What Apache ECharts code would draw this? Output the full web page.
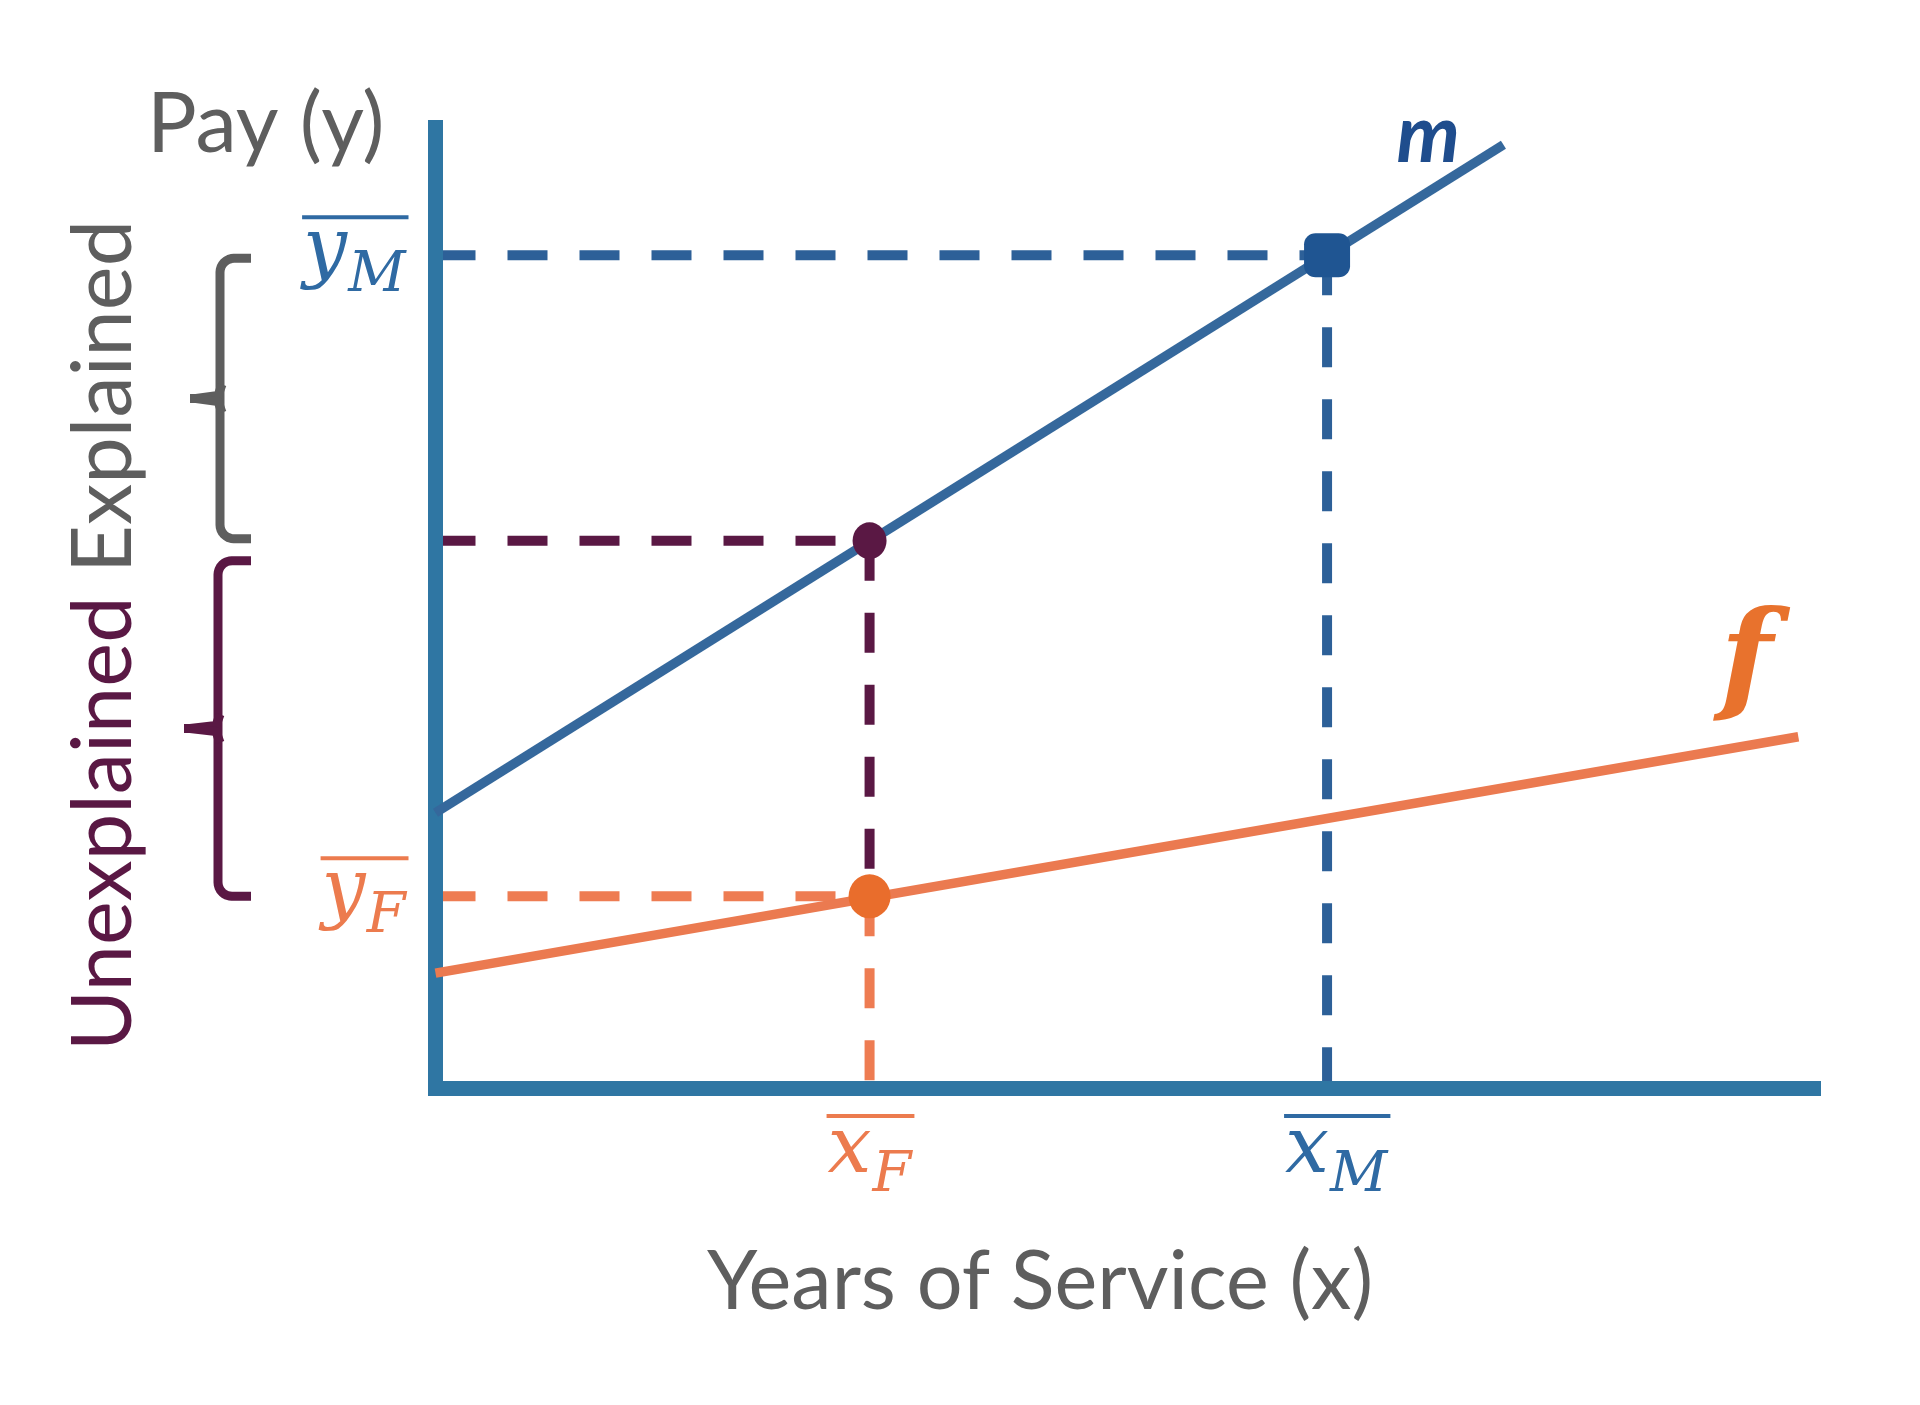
<!DOCTYPE html>
<html><head><meta charset="utf-8">
<script src="https://cdn.jsdelivr.net/npm/echarts@6/dist/echarts.min.js"></script>
<style>html,body{margin:0;padding:0;background:#fff}#c{width:1920px;height:1405px}</style>
</head><body><div id="c"></div>
<script>
// ---------------- data ----------------
const xRange = [0, 10];
const yRange = [0, 10];
const lineM = [[0, 2.87], [7.75, 9.82]];   // male pay line
const lineF = [[0, 1.20], [9.89, 3.66]];   // female pay line
const meanM = [6.47, 8.67];                // (mean x_M, mean y_M)
const meanF = [3.15, 2.00];                // (mean x_F, mean y_F)
const counterfactual = [3.15, 5.70];       // male line evaluated at mean x_F
const xTickValues = [3.15, 6.47];
const xTickBase = ['x', 'x'];
const xTickSub = ['F', 'M'];
const yTickValues = [8.67, 2.00];
const yTickBase = ['y', 'y'];
const yTickSub = ['M', 'F'];
const lineNames = ['m', 'f'];
const xAxisTitle = 'Years of Service (x)';
const yAxisTitle = 'Pay (y)';
const braceLabels = ['Unexplained', 'Explained'];
const braceSpans = [[counterfactual[1], meanF[1]], [meanM[1], counterfactual[1]]];

// ---------------- styles ----------------
const C = {
  axis: '#2f76a3', mLine: '#35689c', mDash: '#2d6098', mDot: '#1f5592',
  purple: '#5a1844', fLine: '#eb7a50', fDash: '#ee7c52', fDot: '#e96d2c',
  gray: '#5e5e5e', lblM: '#2f6aa3', lblF: '#ec7b4e', mText: '#1f4d8d', fText: '#e8722d'
};
const subColor = { F: C.lblF, M: C.lblM };
const BASE_SIZE = 78, SUB_SIZE = 56;
const baseFont = 'italic ' + BASE_SIZE + 'px "DejaVu Serif"';
const subFont = 'italic ' + SUB_SIZE + 'px "DejaVu Serif"';
const SERIF_MID = 0.346;
const TEXT_SHIFT = 11;
const mctx = document.createElement('canvas').getContext('2d');
function tw(t, font) { mctx.font = font; return mctx.measureText(t).width; }

function mathLabel(L, baseY, base, sub, color, ovY) {
  const wb = tw(base, baseFont), ws = tw(sub, subFont);
  const subL = L + wb + 1;
  const R = subL + ws + 3;
  const by = baseY + TEXT_SHIFT;
  return [
    { type: 'rect', shape: { x: L - 1, y: ovY - 2, width: R - L + 1, height: 4 }, style: { fill: color } },
    { type: 'text', style: { text: base, x: L, y: by - SERIF_MID * BASE_SIZE, fill: color, font: baseFont, align: 'left', verticalAlign: 'middle' } },
    { type: 'text', style: { text: sub, x: subL, y: by + 17 - SERIF_MID * SUB_SIZE, fill: color, font: subFont, align: 'left', verticalAlign: 'middle' } }
  ];
}

function renderXTick(params, api) {
  const i = params.dataIndex;
  const p = api.coord([api.value(0), yRange[0]]);
  const color = subColor[xTickSub[i]];
  return { type: 'group', children: mathLabel(p[0] - 42, p[1] + 79.5, xTickBase[i], xTickSub[i], color, p[1] + 27.5) };
}
function renderYTick(params, api) {
  const i = params.dataIndex;
  const p = api.coord([xRange[0], api.value(0)]);
  const color = subColor[yTickSub[i]];
  const W = tw(yTickBase[i], baseFont) + 1 + tw(yTickSub[i], subFont);
  const L = p[0] - 30 - W;
  return { type: 'group', children: mathLabel(L, p[1] + 13, yTickBase[i], yTickSub[i], color, p[1] - 38) };
}
const braceStyle = [
  { color: C.purple, insetTop: 20, insetBottom: 0, vx: 218, mx: 184 },
  { color: C.gray, insetTop: 3, insetBottom: 2, vx: 220, mx: 190 }
];
function arc(cx, cy, r, a0, a1) {
  const pts = [];
  for (let k = 0; k <= 8; k++) {
    const a = (a0 + (a1 - a0) * k / 8) * Math.PI / 180;
    pts.push([cx + r * Math.cos(a), cy - r * Math.sin(a)]);
  }
  return pts;
}
function renderBrace(params, api) {
  const s = braceStyle[params.dataIndex];
  const t = api.coord([xRange[0], api.value(0)])[1] + s.insetTop;
  const b = api.coord([xRange[0], api.value(1)])[1] - s.insetBottom;
  const m = (t + b) / 2, rx = 251, r = 14, vx = s.vx;
  const pts = [[rx, t]].concat(arc(vx + r, t + r, r, 90, 180), arc(vx + r, b - r, r, 180, 270), [[rx, b]]);
  const st = { stroke: s.color, lineWidth: 9, fill: null, lineJoin: 'round', lineCap: 'butt' };
  return { type: 'group', children: [
    { type: 'polyline', shape: { points: pts }, style: st },
    { type: 'polyline', shape: { points: [[vx + 2, m - 14], [vx - 2, m - 3], [s.mx + 6, m], [s.mx, m]] }, style: st },
    { type: 'polyline', shape: { points: [[vx + 2, m + 14], [vx - 2, m + 3], [s.mx + 6, m]] }, style: st }
  ]};
}

function dashed(data, color) {
  return { type: 'line', data: data, symbol: 'none', silent: true, z: 2, clip: false,
    lineStyle: { color: color, width: 10, type: [40, 32], cap: 'butt' } };
}

const option = {
  animation: false,
  backgroundColor: '#ffffff',
  textStyle: { fontFamily: 'Lato' },
  grid: { left: 435.5, right: 106.5, top: 127.5, bottom: 316.5 },
  xAxis: { type: 'value', min: xRange[0], max: xRange[1], z: 3,
    axisLine: { show: true, onZero: false, lineStyle: { color: C.axis, width: 15, cap: 'square' } },
    axisTick: { show: false }, axisLabel: { show: false }, splitLine: { show: false } },
  yAxis: { type: 'value', min: yRange[0], max: yRange[1], z: 3,
    axisLine: { show: true, onZero: false, lineStyle: { color: C.axis, width: 15, cap: 'square' } },
    axisTick: { show: false }, axisLabel: { show: false }, splitLine: { show: false } },
  graphic: [
    { type: 'text', x: 147, y: 125, style: { text: yAxisTitle, fill: C.gray, font: '83px Lato', align: 'left', verticalAlign: 'middle' } },
    { type: 'text', x: 1040, y: 1283, style: { text: xAxisTitle, fill: C.gray, font: '81px Lato', align: 'center', verticalAlign: 'middle' } },
    { type: 'text', x: 104, y: 1051, rotation: Math.PI / 2, style: { text: braceLabels[0], fill: C.purple, font: '83px Lato', align: 'left', verticalAlign: 'middle' } },
    { type: 'text', x: 104, y: 573, rotation: Math.PI / 2, style: { text: braceLabels[1], fill: C.gray, font: '83px Lato', align: 'left', verticalAlign: 'middle' } }
  ],
  series: [
    dashed([[xRange[0], meanM[1]], [meanM[0], meanM[1]]], C.mDash),
    dashed([[meanM[0], meanM[1]], [meanM[0], yRange[0]]], C.mDash),
    dashed([[xRange[0], counterfactual[1]], [counterfactual[0], counterfactual[1]]], C.purple),
    dashed([[counterfactual[0], counterfactual[1]], [meanF[0], meanF[1]]], C.purple),
    dashed([[xRange[0], meanF[1]], [meanF[0], meanF[1]]], C.fDash),
    dashed([[meanF[0], meanF[1]], [meanF[0], yRange[0]]], C.fDash),
    { type: 'line', name: lineNames[0], data: lineM, symbol: 'none', z: 4, clip: false,
      lineStyle: { color: C.mLine, width: 9.5, cap: 'butt' },
      endLabel: { show: true, formatter: lineNames[0], offset: [-115, -9], color: C.mText,
        fontFamily: 'Lato', fontStyle: 'italic', fontWeight: 'bold', fontSize: 80 } },
    { type: 'line', name: lineNames[1], data: lineF, symbol: 'none', z: 4, clip: false,
      lineStyle: { color: C.fLine, width: 9.5, cap: 'butt' },
      endLabel: { show: true, formatter: lineNames[1], offset: [-86, -70], color: C.fText,
        fontFamily: 'DejaVu Serif', fontStyle: 'italic', fontWeight: 'bold', fontSize: 122 } },
    { type: 'scatter', data: [meanM], symbol: 'roundRect', symbolSize: [46, 44], z: 5, itemStyle: { color: C.mDot, opacity: 1 } },
    { type: 'scatter', data: [counterfactual], symbol: 'circle', symbolSize: [34, 37], z: 5, itemStyle: { color: C.purple, opacity: 1 } },
    { type: 'scatter', data: [meanF], symbol: 'circle', symbolSize: [42, 44], z: 5, itemStyle: { color: C.fDot, opacity: 1 } },
    { type: 'custom', coordinateSystem: 'cartesian2d', clip: false, z: 5, silent: true,
      data: xTickValues.map(v => [v]), renderItem: renderXTick },
    { type: 'custom', coordinateSystem: 'cartesian2d', clip: false, z: 5, silent: true,
      data: yTickValues.map(v => [v]), renderItem: renderYTick },
    { type: 'custom', coordinateSystem: 'cartesian2d', clip: false, z: 5, silent: true,
      data: braceSpans, renderItem: renderBrace }
  ]
};
const chart = echarts.init(document.getElementById('c'), null, { renderer: 'canvas' });
chart.setOption(option);
</script></body></html>
